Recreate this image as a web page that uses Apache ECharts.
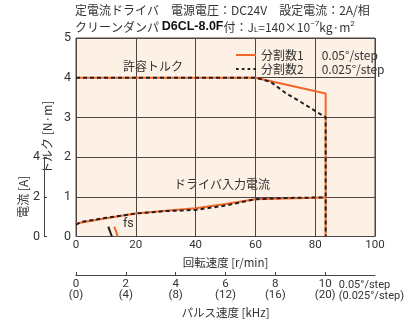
<!DOCTYPE html>
<html>
<head>
<meta charset="UTF-8">
<title>トルク特性</title>
<script src="https://cdn.jsdelivr.net/npm/echarts@6/dist/echarts.min.js"></script>
<style>
  html, body { margin: 0; padding: 0; background: #fff; }
  #chart { width: 409px; height: 322px; }
</style>
</head>
<body>
<div id="chart"></div>
<script>
// 回転速度 [r/min] とトルク [N·m]
var speedTq1 = [0, 60, 83.5, 83.5];
var torque1 = [4, 4, 3.6, 0];
var speedTq2 = [0, 60, 65, 70, 76, 83.5, 83.5];
var torque2 = [4, 4, 3.9, 3.62, 3.35, 3.0, 0];

// ドライバ入力電流 [A]
var speedCur1 = [0, 10, 20, 30, 40, 50, 60, 70, 83.5];
var current1 = [0.66, 0.92, 1.16, 1.3, 1.42, 1.64, 1.88, 1.92, 1.97];
var speedCur2 = [0, 2, 10, 20, 30, 40, 50, 60, 70, 83.5];
var current2 = [0.6, 0.74, 0.94, 1.16, 1.28, 1.34, 1.56, 1.88, 1.94, 1.97];

// fs マーク
var fs1 = [[12.8, 0.25], [14, 0]];
var fs2 = [[10.8, 0.25], [12, 0]];

var pulseTicks = [0, 2, 4, 6, 8, 10];
var legendNames = ['分割数1', '分割数2'];
var legendSteps = ['0.05°/step', '0.025°/step'];

var ORANGE = '#f0672a';
var BLACK = '#231f20';
var GRIDC = '#4d4545';
var TXT = '#333';
var FONT = '"Liberation Sans Narrow", "Roboto", "Noto Sans CJK JP", sans-serif';
var JFONT = '"Noto Sans CJK JP", sans-serif';

function zip(xs, ys) {
    return xs.map(function(x, i) { return [x, ys[i]]; });
}

var chart = echarts.init(document.getElementById('chart'));

var option = {
    animation: false,
    textStyle: { fontFamily: FONT, color: TXT },
    grid: [
        { left: 76, top: 38, width: 299, height: 198.5, show: true, backgroundColor: '#fdf0e5', borderColor: GRIDC, borderWidth: 1 },
        { left: 76, top: 274, width: 299, height: 1 },
        { left: 44, top: 157.1, width: 1, height: 79.4 }
    ],
    xAxis: [
        {
            gridIndex: 0, type: 'value', min: 0, max: 100, interval: 20,
            axisLine: { show: false },
            axisTick: { show: false },
            splitLine: { show: true, lineStyle: { color: GRIDC, width: 1 } },
            axisLabel: { color: TXT, fontSize: 11.5, margin: 3, fontFamily: FONT },
            name: '回転速度 [r/min]', nameLocation: 'middle', nameGap: 20,
            nameTextStyle: { color: TXT, fontSize: 11.5, fontFamily: JFONT }
        },
        {
            gridIndex: 1, type: 'value', min: 0, max: 12, position: 'bottom',
            axisLine: { show: true, lineStyle: { color: '#444', width: 1 } },
            axisTick: { show: true, inside: true, length: 3, customValues: pulseTicks, lineStyle: { color: '#444' } },
            splitLine: { show: false },
            axisLabel: {
                customValues: pulseTicks, color: TXT, fontSize: 11.5, margin: 4, lineHeight: 11, fontFamily: FONT,
                formatter: function(v) { return v + '\n(' + (v * 2) + ')'; }
            },
            name: 'パルス速度 [kHz]', nameLocation: 'middle', nameGap: 32,
            nameTextStyle: { color: TXT, fontSize: 11.5, fontFamily: JFONT }
        },
        { gridIndex: 2, type: 'value', min: 0, max: 1, show: false }
    ],
    yAxis: [
        {
            gridIndex: 0, type: 'value', min: 0, max: 5, interval: 1,
            axisLine: { show: false },
            axisTick: { show: false },
            splitLine: { show: true, lineStyle: { color: GRIDC, width: 1 } },
            axisLabel: { color: TXT, fontSize: 12.5, margin: 5, fontFamily: FONT },
            name: 'トルク [N·m]', nameLocation: 'middle', nameGap: 15, nameRotate: 90,
            nameTextStyle: { color: TXT, fontSize: 12, fontFamily: JFONT, verticalAlign: 'bottom' }
        },
        { gridIndex: 0, type: 'value', min: 0, max: 10, show: false },
        {
            gridIndex: 2, type: 'value', min: 0, max: 4, interval: 2, position: 'left',
            axisLine: { show: true, lineStyle: { color: '#444', width: 1 } },
            axisTick: { show: true, inside: true, length: 3, lineStyle: { color: '#444' } },
            splitLine: { show: false },
            axisLabel: { color: TXT, fontSize: 12.5, margin: 4, fontFamily: FONT },
            name: '電流 [A]', nameLocation: 'middle', nameGap: 15, nameRotate: 90,
            nameTextStyle: { color: TXT, fontSize: 12, fontFamily: JFONT, verticalAlign: 'bottom' }
        },
        { gridIndex: 1, type: 'value', min: 0, max: 1, show: false }
    ],
    legend: {
        orient: 'vertical', left: 231, top: 43, itemWidth: 20, itemHeight: 8, itemGap: 0,
        data: [
            { name: legendNames[0], icon: 'path://M0,0H20V2H0Z' },
            { name: legendNames[1], icon: 'path://M0,0H2.5V2H0ZM5.5,0H8V2H5.5ZM11,0H13.5V2H11ZM16.5,0H19V2H16.5Z' }
        ],
        textStyle: { color: TXT, fontSize: 12, lineHeight: 14, fontFamily: JFONT },
        formatter: function(name) {
            var i = legendNames.indexOf(name);
            return name + '\u3000\u2002' + legendSteps[i];
        }
    },
    graphic: [
        {
            type: 'text', left: 75, top: 4,
            style: { text: '定電流ドライバ　電源電圧：DC24V　設定電流：2A/相', font: '12px ' + JFONT, fill: TXT }
        },
        {
            type: 'text', left: 75, top: 20,
            style: {
                text: '{j|クリーンダンパ }{bold|D6CL-8.0F}{j|付：J}{sub|L}{j|=140×10}{sup|−7}{j|kg·m}{sup|2}',
                fill: TXT,
                rich: {
                    j: { fontFamily: JFONT, fontSize: 12, fill: TXT },
                    bold: { fontFamily: '"Liberation Sans", sans-serif', fontWeight: 'bold', fontSize: 12.5, fill: '#111' },
                    sub: { fontFamily: FONT, fontSize: 8, fill: TXT, verticalAlign: 'bottom', padding: [4, 0, 0, 0] },
                    sup: { fontFamily: FONT, fontSize: 8, fill: TXT, verticalAlign: 'top', padding: [0, 0, 6, 0] }
                }
            }
        },
        {
            type: 'text', left: 123, top: 60,
            style: { text: '許容トルク', font: '12px ' + JFONT, fill: TXT }
        },
        {
            type: 'text', left: 174, top: 178,
            style: { text: 'ドライバ入力電流', font: '12px ' + JFONT, fill: TXT }
        },
        {
            type: 'text', left: 123, top: 218,
            style: { text: 'fs', font: '12.5px ' + FONT, fill: TXT }
        },
        {
            type: 'text', right: 5, top: 280,
            style: { text: '0.05°/step\n(0.025°/step)', font: '11px ' + FONT, fill: TXT, align: 'center', lineHeight: 11 }
        }
    ],
    series: [
        {
            name: legendNames[0], type: 'line', xAxisIndex: 0, yAxisIndex: 0,
            data: zip(speedTq1, torque1), showSymbol: false, symbol: 'none',
            lineStyle: { color: ORANGE, width: 2 }, itemStyle: { color: ORANGE }, z: 3
        },
        {
            name: legendNames[0], type: 'line', xAxisIndex: 0, yAxisIndex: 1,
            data: zip(speedCur1, current1), showSymbol: false, symbol: 'none',
            lineStyle: { color: ORANGE, width: 2 }, itemStyle: { color: ORANGE }, z: 3
        },
        {
            name: legendNames[0], type: 'line', xAxisIndex: 0, yAxisIndex: 0,
            data: fs1, showSymbol: false, symbol: 'none',
            lineStyle: { color: ORANGE, width: 2 }, itemStyle: { color: ORANGE }, z: 3
        },
        {
            name: legendNames[1], type: 'line', xAxisIndex: 0, yAxisIndex: 0,
            data: zip(speedTq2, torque2), showSymbol: false, symbol: 'none',
            lineStyle: { color: BLACK, width: 2, type: [4, 3] }, itemStyle: { color: BLACK }, z: 4
        },
        {
            name: legendNames[1], type: 'line', xAxisIndex: 0, yAxisIndex: 1,
            data: zip(speedCur2, current2), showSymbol: false, symbol: 'none',
            lineStyle: { color: BLACK, width: 2, type: [4, 3] }, itemStyle: { color: BLACK }, z: 4
        },
        {
            name: legendNames[1], type: 'line', xAxisIndex: 0, yAxisIndex: 0,
            data: fs2, showSymbol: false, symbol: 'none',
            lineStyle: { color: BLACK, width: 2 }, itemStyle: { color: BLACK }, z: 4
        }
    ]
};

chart.setOption(option);
</script>
</body>
</html>
